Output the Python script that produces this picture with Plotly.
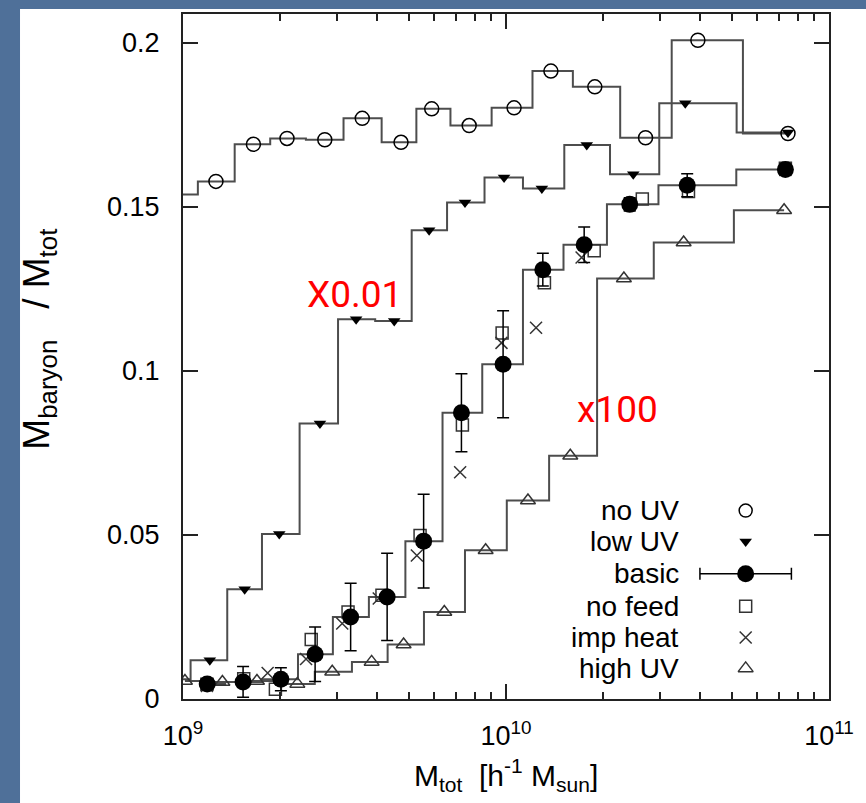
import numpy as np
import plotly.graph_objects as go

# ---------------- data (log10 of M_tot [h^-1 Msun], baryon fraction) ----------------
noUV_logm = [8.99, 9.102, 9.218, 9.322, 9.439, 9.555, 9.675, 9.770, 9.886, 10.025,
             10.139, 10.275, 10.432, 10.594, 10.873]
noUV_frac = [0.1537, 0.1577, 0.1690, 0.1708, 0.1704, 0.1769, 0.1696, 0.1798, 0.1747, 0.1801,
             0.1913, 0.1865, 0.1710, 0.2007, 0.1723]

lowUV_logm = [8.964, 9.083, 9.191, 9.298, 9.424, 9.536, 9.654, 9.762, 9.873, 9.994,
              10.111, 10.250, 10.394, 10.555, 10.873]
lowUV_frac = [0.0060, 0.0118, 0.0334, 0.0503, 0.0839, 0.1157, 0.1152, 0.1428, 0.1513, 0.1589,
              0.1555, 0.1688, 0.1599, 0.1815, 0.1726]

basic_logm = [9.075, 9.186, 9.303, 9.409, 9.519, 9.632, 9.745, 9.862, 9.991, 10.114,
              10.242, 10.383, 10.561, 10.865]
basic_frac = [0.0046, 0.0052, 0.0060, 0.0136, 0.0250, 0.0311, 0.0481, 0.0872, 0.1020, 0.1308,
              0.1384, 0.1507, 0.1565, 0.1613]
basic_err = [0.0015, 0.0047, 0.0035, 0.0083, 0.0103, 0.0133, 0.0143, 0.0119, 0.0163, 0.0050,
             0.0054, 0.0020, 0.0035, 0.0010]

nofeed_logm = [9.074, 9.188, 9.286, 9.397, 9.511, 9.616, 9.734, 9.865, 9.988, 10.119,
               10.273, 10.422, 10.565, 10.865]
nofeed_frac = [0.0045, 0.0062, 0.0030, 0.0181, 0.0265, 0.0316, 0.0498, 0.0835, 0.1115, 0.1268,
               0.1366, 0.1523, 0.1546, 0.1617]

impheat_logm = [9.074, 9.262, 9.381, 9.493, 9.606, 9.724, 9.858, 9.986, 10.093, 10.234, 10.865]
impheat_frac = [0.0040, 0.0079, 0.0122, 0.0230, 0.0306, 0.0437, 0.0691, 0.1085, 0.1131, 0.1345, 0.1612]

highUV_logm = [9.006, 9.122, 9.229, 9.354, 9.462, 9.584, 9.683, 9.809, 9.937, 10.068,
               10.199, 10.365, 10.550, 10.861]
highUV_frac = [0.0055, 0.0052, 0.0055, 0.0046, 0.0083, 0.0113, 0.0166, 0.0265, 0.0453, 0.0605,
               0.0741, 0.1281, 0.1391, 0.1489]

legend_labels = ["no UV", "low UV", "basic", "no feed", "imp heat", "high UV"]
y_ticks = [0, 0.05, 0.1, 0.15, 0.2]
y_ticklabels = ["0", "0.05", "0.1", "0.15", "0.2"]
x_ticks = [1e9, 1e10, 1e11]
x_ticklabels = ["10<sup>9</sup>", "10<sup>10</sup>", "10<sup>11</sup>"]

# ---------------- styles ----------------
FONT = "Liberation Sans, Arial, Helvetica, sans-serif"
RED_FONT = "Roboto, Liberation Sans Narrow, sans-serif"
LINE_COL = "#4d4d4d"
BLUE = "#4f7099"

def m(logm):
    return [10 ** v for v in logm]

def visible(logm, frac):
    xs, ys = [], []
    for lv, fv in zip(logm, frac):
        if 9.0 <= lv <= 11.0:
            xs.append(10 ** lv)
            ys.append(fv)
    return xs, ys

fig = go.Figure()

# step lines (gnuplot histeps ~ plotly hvh)
for lm, fr in [(noUV_logm, noUV_frac), (lowUV_logm, lowUV_frac),
               (basic_logm, basic_frac), (highUV_logm, highUV_frac)]:
    fig.add_trace(go.Scatter(x=m(lm), y=fr, mode="lines",
                             line=dict(shape="hvh", color=LINE_COL, width=2),
                             showlegend=False, hoverinfo="skip"))

mk_line = dict(color="black", width=1.5)

x, y = visible(noUV_logm, noUV_frac)
fig.add_trace(go.Scatter(x=x, y=y, mode="markers", showlegend=False,
                         marker=dict(symbol="circle-open", size=14, color="black", line=mk_line)))
x, y = visible(lowUV_logm, lowUV_frac)
fig.add_trace(go.Scatter(x=x, y=y, mode="markers", showlegend=False,
                         marker=dict(symbol="triangle-down", size=11, color="black")))
x, y = visible(nofeed_logm, nofeed_frac)
fig.add_trace(go.Scatter(x=x, y=y, mode="markers", showlegend=False,
                         marker=dict(symbol="square-open", size=12, color="#333333", line=mk_line)))
x, y = visible(impheat_logm, impheat_frac)
fig.add_trace(go.Scatter(x=x, y=y, mode="markers", showlegend=False,
                         marker=dict(symbol="x-thin-open", size=12, color="#333333", line=mk_line)))
x, y = visible(highUV_logm, highUV_frac)
fig.add_trace(go.Scatter(x=x, y=y, mode="markers", showlegend=False,
                         marker=dict(symbol="triangle-up-open", size=13, color="#333333", line=mk_line)))
fig.add_trace(go.Scatter(x=m(basic_logm), y=basic_frac, mode="markers", showlegend=False,
                         marker=dict(symbol="circle", size=17, color="black"),
                         error_y=dict(type="data", array=basic_err, visible=True,
                                      color="black", thickness=1.5, width=6)))

# ---------------- custom gnuplot-style key (text left, symbol right) ----------------
key_x_text = 0.771
key_x_sym = 0.871
key_rows = [0.2751, 0.2300, 0.1830, 0.1354, 0.0898, 0.0447]
key_syms = [dict(symbol="circle-open", size=13, color="black", line=mk_line),
            dict(symbol="triangle-down", size=11, color="black"),
            dict(symbol="circle", size=17, color="black"),
            dict(symbol="square-open", size=12, color="#333333", line=mk_line),
            dict(symbol="x-thin-open", size=12, color="#333333", line=mk_line),
            dict(symbol="triangle-up-open", size=13, color="#333333", line=mk_line)]
for lab, ry, sym in zip(legend_labels, key_rows, key_syms):
    fig.add_annotation(x=key_x_text, y=ry, xref="paper", yref="paper", text=lab,
                       showarrow=False, xanchor="right", yanchor="middle",
                       font=dict(family=FONT, size=28, color="black"))
    tr = dict(x=[key_x_sym], y=[ry], mode="markers", marker=sym, showlegend=False,
              xaxis="x2", yaxis="y2", hoverinfo="skip")
    if lab == "basic":
        tr["error_x"] = dict(type="constant", value=0.0708, visible=True,
                             color="black", thickness=1.5, width=6)
    fig.add_trace(go.Scatter(**tr))

# ---------------- annotations ----------------
fig.add_annotation(x=0.2654, y=0.5905, xref="paper", yref="paper", text="X0.01",
                   showarrow=False, xanchor="center", yanchor="middle",
                   font=dict(family=RED_FONT, size=37, color="#ff0000"))
fig.add_annotation(x=0.6723, y=0.4221, xref="paper", yref="paper", text="x100",
                   showarrow=False, xanchor="center", yanchor="middle",
                   font=dict(family=RED_FONT, size=37, color="#ff0000"))
fig.add_annotation(x=-0.223, y=0.526, xref="paper", yref="paper", textangle=-90,
                   text="M<sub>baryon</sub>&nbsp;&nbsp;&nbsp;/&nbsp;M<sub>tot</sub>", showarrow=False,
                   xanchor="center", yanchor="middle",
                   font=dict(family=FONT, size=37, color="black"))
fig.add_annotation(x=0.50, y=-0.1106, xref="paper", yref="paper",
                   text="M<sub>tot</sub>&nbsp;&nbsp;[h<sup>-1</sup> M<sub>sun</sub>]", showarrow=False,
                   xanchor="center", yanchor="middle",
                   font=dict(family=FONT, size=30, color="black"))

# white slide panel on blue background
fig.add_shape(type="rect", xref="paper", yref="paper", x0=-0.2523, x1=1.06, y0=-0.16, y1=1.0073,
              fillcolor="white", line=dict(width=0), layer="below")

minor_vals = [k * 10 ** e for e in (9, 10) for k in range(2, 10)]

fig.update_layout(
    width=866, height=803,
    margin=dict(l=183, r=33, t=12, b=104),
    paper_bgcolor=BLUE, plot_bgcolor="white",
    font=dict(family=FONT, size=27, color="black"),
    xaxis=dict(type="log", range=[9, 11], tickvals=x_ticks, ticktext=x_ticklabels,
               ticks="inside", ticklen=15, tickwidth=1.5, tickcolor="#222",
               showline=True, linecolor="#222", linewidth=2, mirror="allticks",
               showgrid=False, zeroline=False, ticklabelstandoff=12,
               minor=dict(tickvals=minor_vals, ticks="inside", ticklen=7, tickwidth=1.5,
                          tickcolor="#222", showgrid=False),
               tickfont=dict(family=FONT, size=27)),
    yaxis=dict(range=[0, 0.2087], tickvals=y_ticks, ticktext=y_ticklabels,
               ticks="inside", ticklen=15, tickwidth=1.5, tickcolor="#222",
               showline=True, linecolor="#222", linewidth=2, mirror="allticks",
               showgrid=False, zeroline=False, ticklabelstandoff=16,
               tickfont=dict(family=FONT, size=27)),
    xaxis2=dict(overlaying="x", range=[0, 1], visible=False, anchor="y2"),
    yaxis2=dict(overlaying="y", range=[0, 1], visible=False, anchor="x2"),
    showlegend=False,
)

fig.write_html("out.html")
